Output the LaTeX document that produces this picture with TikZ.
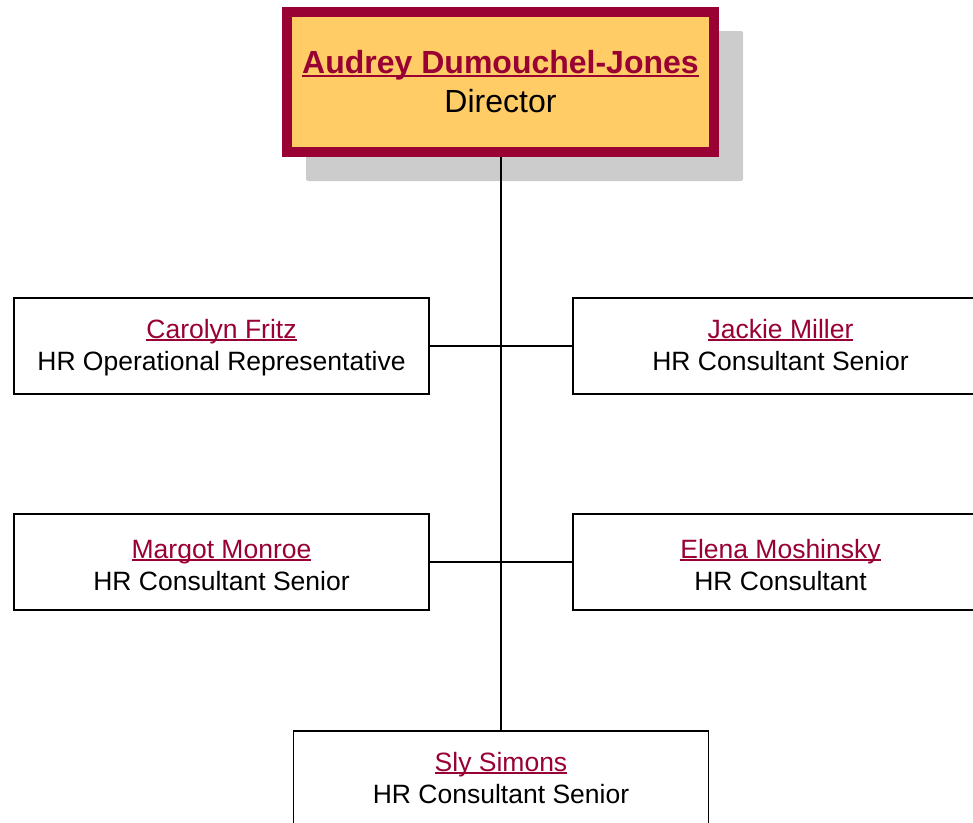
\documentclass[tikz,border=0pt]{standalone}
\usepackage{fontspec}
\setmainfont{Liberation Sans}
\usepackage{xcolor}
\usepackage{tikz}
\usetikzlibrary{backgrounds, calc}
\definecolor{namered}{RGB}{153,0,51}
\definecolor{headfill}{RGB}{255,204,102}
\definecolor{shadowgray}{RGB}{204,204,204}
\newcommand{\nameline}[1]{\setbox0\hbox{#1}\rlap{\rule[-0.1em]{\wd0}{0.07em}}\box0}

\begin{document}
\begin{tikzpicture}[
  x=1pt, y=-1pt,
  directorbox/.style={rectangle, draw=namered, line width=10pt, fill=headfill,
                      minimum width=427pt, minimum height=140pt, inner sep=0pt,
                      align=center, font=\fontsize{32}{39}\selectfont},
  staffbox/.style={rectangle, draw, line width=1.5pt, fill=white,
                   minimum width=415pt, minimum height=96pt, inner sep=0pt,
                   align=center, text depth=2pt, font=\fontsize{26.5}{32}\selectfont},
  lowtext/.style={text height=58pt},
  link/.style={line width=1.8pt}
]
  \useasboundingbox (0,0) rectangle (973,822);
  \clip (0,0) rectangle (973,822);

  \node (director) [directorbox] at (500.5,82)
    {\textcolor{namered}{\bfseries\nameline{Audrey Dumouchel-Jones}}\\Director};
  \node (carolyn) [staffbox] at (221.5,346)
    {\textcolor{namered}{\nameline{Carolyn Fritz}}\\HR Operational Representative};
  \node (jackie) [staffbox] at (780.5,346)
    {\textcolor{namered}{\nameline{Jackie Miller}}\\HR Consultant Senior};
  \node (margot) [staffbox, lowtext] at (221.5,562)
    {\textcolor{namered}{\nameline{Margot Monroe}}\\HR Consultant Senior};
  \node (elena) [staffbox, lowtext] at (780.5,562)
    {\textcolor{namered}{\nameline{Elena Moshinsky}}\\HR Consultant};
  \node (sly) [staffbox] at (501,779)
    {\textcolor{namered}{\nameline{Sly Simons}}\\HR Consultant Senior};

  % drop shadow behind the director
  \begin{scope}[on background layer]
    \fill[shadowgray, rounded corners=2pt] ($(director.north west)+(24,24)$)
      rectangle ($(director.south east)+(24,24)$);
  \end{scope}

  \draw[link] (sly.north |- director.south) -- (sly.north);
  \draw[link] (carolyn) -- (jackie);
  \draw[link] (margot) -- (elena);
\end{tikzpicture}
\end{document}
